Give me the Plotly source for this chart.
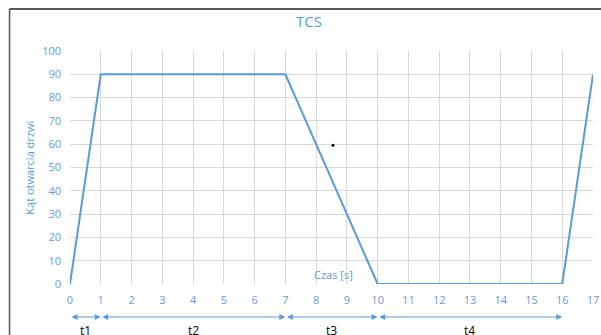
import plotly.graph_objects as go

# Data
time_s = [0, 1, 7, 10, 16, 17]
angle_deg = [0, 90, 90, 0, 0, 90]
stray_x = [8.55]
stray_y = [59.6]
phase_labels = ["t1", "t2", "t3", "t4"]
phase_start = [0, 1, 7, 10]
phase_end = [1, 7, 10, 16]
x_ticks = list(range(0, 18))
y_ticks = list(range(0, 101, 10))

BLUE = "#5b9bd5"
TICKBLUE = "#6b9ad6"
FONT = "Open Sans"

fig = go.Figure()
fig.add_trace(go.Scatter(x=time_s, y=angle_deg, mode="lines",
                         line=dict(color=BLUE, width=2), showlegend=False,
                         cliponaxis=False))
fig.add_trace(go.Scatter(x=stray_x, y=stray_y, mode="markers",
                         marker=dict(color="black", size=3), showlegend=False))

ARROW_Y = -0.1416
LABEL_Y = -0.199
annotations = []
for lab, s, e in zip(phase_labels, phase_start, phase_end):
    annotations.append(dict(x=e, y=ARROW_Y, ax=s, ay=0, xref="x", yref="paper",
                            axref="x", ayref="pixel", text="", showarrow=True,
                            arrowhead=2, startarrowhead=2, arrowside="end+start",
                            arrowsize=1.2, startarrowsize=1.2, arrowwidth=1,
                            arrowcolor=BLUE, standoff=0, startstandoff=0))
    annotations.append(dict(x=(s + e) / 2, y=LABEL_Y, xref="x", yref="paper",
                            text=lab, showarrow=False, yanchor="middle",
                            font=dict(family=FONT, size=12, color="black")))

annotations.append(dict(x=8.57, y=3.9, xref="x", yref="y", text="Czas [s]",
                        showarrow=False, font=dict(family=FONT, size=11, color=BLUE)))
annotations.append(dict(x=-0.078, y=0.5, xref="paper", yref="paper",
                        xanchor="center", yanchor="middle",
                        text="Kąt otwarcia drzwi", textangle=-90, showarrow=False,
                        font=dict(family=FONT, size=11, color=BLUE)))

shapes = [
    dict(type="line", xref="paper", yref="paper", x0=-0.1156, x1=1.02, y0=1.18, y1=1.18,
         line=dict(color="#222222", width=1.5)),
    dict(type="line", xref="paper", yref="paper", x0=-0.1156, x1=-0.1156, y0=1.18, y1=-0.25,
         line=dict(color="#555555", width=1.5)),
]

fig.update_layout(
    width=601, height=335,
    margin=dict(l=70, r=8, t=51, b=51, autoexpand=False),
    paper_bgcolor="white", plot_bgcolor="white",
    title=dict(text="TCS", x=0.514, xref="container", xanchor="center",
               y=0.934, yref="container", yanchor="middle",
               font=dict(family=FONT, size=15, color=BLUE)),
    xaxis=dict(range=[0, 17], tickvals=x_ticks, showgrid=True, gridcolor="#d9d9d9",
               gridwidth=1, zeroline=False, showline=False, ticks="",
               ticklabelstandoff=8, automargin=False,
               tickfont=dict(family=FONT, size=11, color=TICKBLUE)),
    yaxis=dict(range=[0, 100], tickvals=y_ticks, showgrid=True, gridcolor="#d9d9d9",
               gridwidth=1, zeroline=False, showline=False, ticks="",
               ticklabelstandoff=8, automargin=False,
               tickfont=dict(family=FONT, size=11, color=TICKBLUE)),
    annotations=annotations,
    shapes=shapes,
    showlegend=False,
)

fig.write_html("out.html", config={"displayModeBar": False},
               post_script="document.body.style.margin='0';document.body.style.overflow='hidden';")
